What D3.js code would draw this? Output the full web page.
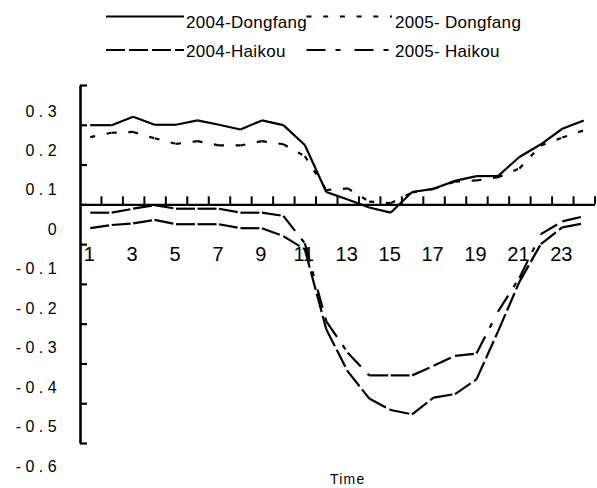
<!DOCTYPE html>
<html>
<head>
<meta charset="utf-8">
<script src="https://d3js.org/d3.v7.min.js"></script>
<style>
body{margin:0;background:#fff;}
svg{display:block;font-family:"Liberation Sans",Arial,sans-serif;}
</style>
</head>
<body>
<svg id="chart" width="597" height="488"></svg>
<script>
// horas del dia
const horas = [1,2,3,4,5,6,7,8,9,10,11,12,13,14,15,16,17,18,19,20,21,22,23,24];
const etiquetasX = [1,3,5,7,9,11,13,15,17,19,21,23];
const ticksY = [0.3,0.2,0.1,0,-0.1,-0.2,-0.3,-0.4,-0.5,-0.6];

const dongfang2004 = [0.199,0.199,0.22,0.20,0.20,0.211,0.20,0.188,0.211,0.199,0.149,0.031,0.012,-0.008,-0.021,0.031,0.039,0.059,0.071,0.071,0.119,0.151,0.19,0.211];
const dongfang2005 = [0.169,0.18,0.182,0.166,0.152,0.159,0.148,0.148,0.159,0.151,0.121,0.036,0.04,0.007,0.003,0.03,0.039,0.057,0.06,0.068,0.09,0.148,0.168,0.186];
const haikou2004 = [-0.06,-0.052,-0.048,-0.039,-0.05,-0.05,-0.05,-0.06,-0.06,-0.08,-0.113,-0.314,-0.42,-0.488,-0.517,-0.528,-0.486,-0.477,-0.44,-0.32,-0.195,-0.1,-0.058,-0.048];
const haikou2005 = [-0.021,-0.021,-0.011,-0.002,-0.011,-0.011,-0.011,-0.021,-0.021,-0.029,-0.098,-0.294,-0.373,-0.43,-0.43,-0.43,-0.406,-0.381,-0.375,-0.27,-0.185,-0.075,-0.043,-0.03];

const series = [
    {nombre:"2004-Haikou", valores:haikou2004, trazo:"19,4", fila:1, col:0},
    {nombre:"2005- Haikou", valores:haikou2005, trazo:"19,10,5,14", fila:1, col:1},
    {nombre:"2005- Dongfang", valores:dongfang2005, trazo:"5,11.7", fila:0, col:1},
    {nombre:"2004-Dongfang", valores:dongfang2004, trazo:null, fila:0, col:0}
];

const svg = d3.select("#chart");

const x = d3.scaleLinear().domain([0.5, 24.5]).range([79.5, 594.5]);
const y = d3.scaleLinear().domain([-0.6, 0.3]).range([443, 85]);
/* las etiquetas del eje y estan corridas hacia abajo en el original */
const yEtiqueta = d3.scaleLinear().domain([-0.6, 0.3]).range([471.5, 116.5]);

/* eje x en el cero, ticks hacia arriba */
const ejeX = svg.append("g")
    .attr("transform", "translate(0," + y(0) + ")")
    .call(d3.axisTop(x).tickValues(horas.map(h => h + 0.5)).tickSize(8).tickSizeOuter(0).tickFormat(""));
ejeX.select(".domain").attr("stroke-width", 2.4);
ejeX.selectAll(".tick line").attr("stroke-width", 2);

const ejeY = svg.append("g")
    .attr("transform", "translate(80,0)")
    .call(d3.axisRight(y).tickValues(ticksY).tickSize(7).tickSizeOuter(0).tickFormat(""));
ejeY.select(".domain").attr("stroke-width", 2.6);
ejeY.selectAll(".tick line").attr("stroke-width", 2.2);

svg.append("g").selectAll("text").data(ticksY).join("text")
    .attr("x", 61)
    .attr("y", d => yEtiqueta(d))
    .attr("text-anchor", "end")
    .attr("font-size", 16)
    .attr("letter-spacing", 4.4)
    .text(d => d === 0 ? "0" : d.toFixed(1));

svg.append("g").selectAll("text").data(etiquetasX).join("text")
    .attr("x", d => x(d) - 1)
    .attr("y", 261)
    .attr("text-anchor", "middle")
    .attr("font-size", 20)
    .text(d => d);

svg.append("text")
    .attr("x", 330)
    .attr("y", 484)
    .attr("font-size", 14)
    .attr("letter-spacing", 1.2)
    .text("Time");

/* cada tramo por separado: el patron de guiones vuelve a empezar en cada punto */
const linea = d3.line().x(d => x(d.h)).y(d => y(d.v));
series.forEach(s => {
    const puntos = horas.map((h, i) => ({h: h, v: s.valores[i]}));
    svg.append("g").selectAll("path").data(d3.pairs(puntos)).join("path")
        .attr("d", d => linea(d))
        .attr("fill", "none")
        .attr("stroke", "#000")
        .attr("stroke-width", 2.2)
        .attr("stroke-dasharray", s.trazo);
});

/* leyenda */
const leyenda = svg.append("g");
series.forEach(s => {
    const filaY = s.fila === 0 ? 16.5 : 50;
    const textoY = s.fila === 0 ? 27.5 : 56.5;
    const x0 = s.col === 0 ? 106 : 306.5;
    const x1 = s.col === 0 ? 184 : 392;
    leyenda.append("line")
        .attr("x1", x0).attr("x2", x1)
        .attr("y1", filaY).attr("y2", filaY)
        .attr("stroke", "#000")
        .attr("stroke-width", 2.2)
        .attr("stroke-dasharray", s.trazo);
    leyenda.append("text")
        .attr("x", s.col === 0 ? 186 : 395)
        .attr("y", textoY)
        .attr("font-size", 17)
        .attr("letter-spacing", 0.3)
        .text(s.nombre);
});
</script>
</body>
</html>
